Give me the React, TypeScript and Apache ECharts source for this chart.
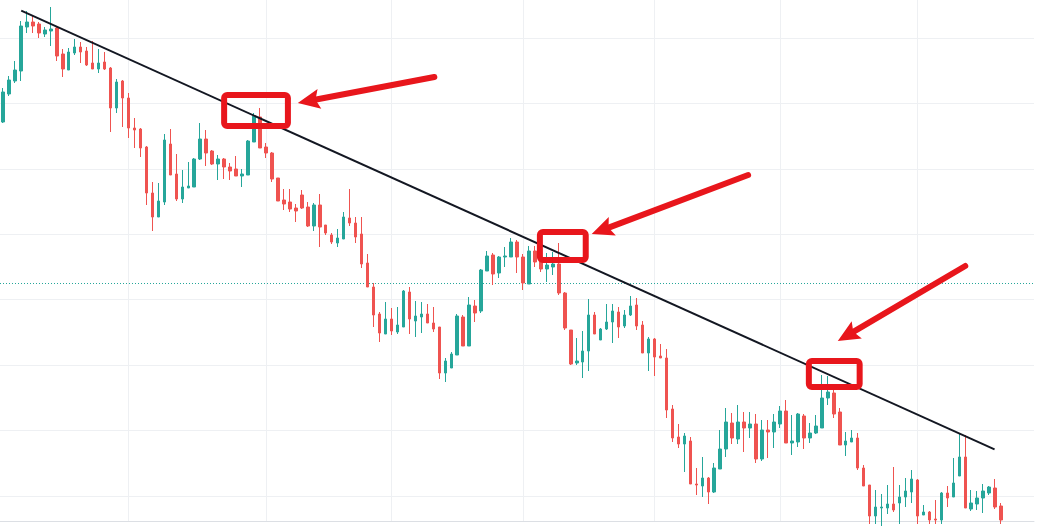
import React, { useEffect, useRef } from "react";
import * as echarts from "echarts";

// Price units: arbitrary (1 unit per screen pixel). Plot range 479..1000.
const SLOT_COUNT = 173;
const CATEGORIES = Array.from({ length: SLOT_COUNT }, (_, i) => `bar ${i + 1}`);

const OPEN = [
  878, 906, 919, 929, 973, 978, 976, 966, 969, 972, 946, 930, 947, 953, 949, 937, 931, 938, 932, 892,
  919, 902, 872, 871, 853, 807, 783, 798, 856, 826, 801, 812, 813, 841, 861, 849, 836, 841, 833, 831,
  824, 825, 858, 883, 853, 847, 822, 800, 798, 792, 805, 793, 774, 795, 775, 765, 757, 761, 782, 777,
  766, 737, 713, 686, 666, 681, 668, 673, 708, 679, 683, 686, 677, 673, 627, 632, 645, 683, 654, 694,
  689, 729, 745, 727, 743, 743, 758, 743, 716, 749, 743, 731, 733, 736, 707, 670, 637, 638, 649, 685,
  660, 671, 678, 688, 674, 685, 695, 675, 647, 661, 644, 642, 591, 563, 556, 559, 516, 514, 522, 508,
  531, 551, 577, 561, 578, 572, 576, 541, 570, 568, 576, 589, 557, 558, 584, 562, 567, 572, 602, 607,
  588, 555, 558, 562, 532, 515, 484, 492, 492, 496, 497, 503, 508, 520, 485, 488, 481, 480, 507, 503,
  524, 543, 491, 496, 502, 507, 512, 494,
];
const CLOSE = [
  908, 920, 930, 974, 978, 974, 967, 970, 971, 944, 931, 948, 953, 948, 935, 931, 937, 931, 892, 918,
  902, 872, 870, 852, 807, 783, 799, 860, 825, 801, 813, 814, 841, 861, 847, 836, 841, 833, 829, 824,
  826, 859, 884, 852, 847, 821, 799, 796, 791, 789, 792, 774, 795, 773, 767, 758, 762, 783, 777, 763,
  736, 713, 685, 667, 681, 669, 675, 709, 681, 684, 686, 677, 671, 627, 639, 646, 684, 654, 695, 687,
  730, 744, 726, 743, 744, 758, 743, 717, 749, 738, 731, 735, 736, 707, 672, 636, 639, 649, 685, 666,
  671, 678, 689, 673, 685, 694, 674, 647, 661, 643, 642, 590, 562, 556, 564, 516, 515, 522, 508, 532,
  551, 578, 562, 578, 572, 576, 541, 570, 568, 578, 589, 557, 559, 586, 562, 567, 574, 602, 608, 586,
  555, 559, 562, 532, 514, 484, 493, 493, 496, 490, 503, 509, 521, 484, 488, 480, 480, 507, 502, 517,
  543, 492, 497, 502, 509, 513, 493, 480,
];
const LOW = [
  877, 904, 917, 919, 967, 967, 962, 963, 954, 939, 923, 930, 945, 937, 934, 931, 927, 930, 868, 887,
  873, 862, 852, 843, 795, 769, 783, 795, 825, 799, 797, 812, 813, 840, 834, 835, 820, 821, 820, 824,
  813, 825, 858, 852, 842, 818, 799, 790, 788, 778, 791, 773, 769, 753, 765, 756, 753, 761, 774, 757,
  732, 713, 673, 658, 666, 665, 666, 673, 666, 663, 667, 677, 668, 621, 618, 632, 645, 654, 654, 678,
  687, 729, 715, 722, 733, 743, 727, 710, 716, 733, 728, 718, 725, 705, 670, 635, 635, 622, 629, 666,
  660, 670, 657, 662, 672, 684, 670, 647, 629, 624, 642, 582, 558, 552, 528, 516, 505, 503, 496, 507,
  531, 543, 556, 556, 548, 562, 537, 539, 542, 552, 572, 557, 545, 553, 551, 557, 566, 572, 595, 582,
  555, 544, 558, 530, 514, 476, 476, 474, 486, 488, 476, 493, 497, 476, 485, 476, 476, 476, 493, 503,
  524, 492, 489, 490, 487, 505, 491, 476,
];
const HIGH = [
  912, 924, 939, 979, 989, 985, 978, 973, 993, 973, 951, 952, 961, 958, 953, 959, 951, 948, 933, 921,
  920, 907, 882, 872, 854, 818, 817, 866, 871, 846, 830, 838, 842, 877, 870, 850, 845, 842, 837, 844,
  831, 860, 887, 892, 857, 848, 822, 811, 811, 796, 810, 798, 797, 806, 775, 767, 771, 788, 811, 783,
  783, 746, 717, 688, 698, 692, 693, 710, 713, 699, 698, 696, 693, 673, 642, 648, 686, 685, 703, 700,
  731, 749, 747, 744, 753, 762, 760, 746, 754, 754, 747, 747, 748, 757, 708, 670, 662, 669, 701, 688,
  672, 696, 696, 693, 690, 704, 702, 679, 663, 662, 656, 651, 595, 576, 567, 563, 532, 543, 523, 537,
  570, 592, 587, 595, 588, 588, 586, 580, 580, 586, 594, 600, 585, 587, 586, 577, 585, 625, 624, 610,
  592, 568, 570, 567, 535, 515, 510, 506, 515, 533, 515, 522, 530, 521, 495, 489, 500, 508, 514, 542,
  567, 565, 510, 509, 516, 514, 521, 497,
];

// Reference levels and annotations (in data space: [bar index, price])
const H_GRID = [504, 569.4, 634.9, 700.3, 765.7, 831.1, 896.6, 962];
const V_GRID = [21, 44, 65, 87, 109, 130, 153];
const DOTTED_LEVEL = 717;
const TREND = [
  [3.05, 989.3],
  [165.9, 550.7],
];
// [x from, x to, price low, price high]
const BOXES = [
  [37.0, 47.67, 874, 905],
  [89.83, 97.5, 740, 768],
  [134.83, 143.33, 613, 639],
];
// [tail x, tail price, tip x, tip price]
const ARROWS = [
  [72.17, 923, 49.33, 897],
  [124.67, 825, 98.5, 766],
  [161, 734, 139.67, 659],
];

const UP = "#26a69a";
const DOWN = "#ef5350";
const RED = "#e8161c";
const GRID_COLOR = "#eef0f3";

export default function App() {
  const ref = useRef<HTMLDivElement>(null);

  useEffect(() => {
    const chart = echarts.init(ref.current!, null, { renderer: "svg" });
    const candles = OPEN.map((o, i) => [o, CLOSE[i], LOW[i], HIGH[i]]);

    chart.setOption({
      animation: false,
      backgroundColor: "#ffffff",
      grid: { left: -4, top: 0, width: SLOT_COUNT * 6, height: 521, containLabel: false },
      xAxis: [
        {
          type: "category",
          data: CATEGORIES,
          boundaryGap: true,
          axisLine: { show: true, lineStyle: { color: "#dcdfe4", width: 1 } },
          axisTick: { show: false },
          axisLabel: { show: false },
          splitLine: { show: false },
        },
        {
          type: "value",
          min: -0.5,
          max: SLOT_COUNT - 0.5,
          show: false,
          splitLine: { show: false },
        },
      ],
      yAxis: {
        type: "value",
        min: 479,
        max: 1000,
        show: false,
        splitLine: { show: false },
      },
      series: [
        {
          type: "line",
          xAxisIndex: 1,
          data: [],
          silent: true,
          z: 0,
          markLine: {
            silent: true,
            symbol: "none",
            z: 0,
            animation: false,
            label: { show: false },
            lineStyle: { color: GRID_COLOR, width: 1, type: "solid" },
            data: [
              ...H_GRID.map((v) => ({ yAxis: v })),
              ...V_GRID.map((v) => ({ xAxis: v })),
              {
                yAxis: DOTTED_LEVEL,
                lineStyle: { color: UP, width: 1, type: [1, 2] },
              },
            ],
          },
        },
        {
          type: "candlestick",
          data: candles,
          barWidth: 3,
          z: 2,
          clip: true,
          itemStyle: {
            color: UP,
            color0: DOWN,
            borderColor: UP,
            borderColor0: DOWN,
            borderColorDoji: UP,
            borderWidth: 1,
          },
        },
        {
          type: "line",
          xAxisIndex: 1,
          data: TREND,
          symbol: "none",
          silent: true,
          z: 3,
          lineStyle: { color: "#131722", width: 2 },
        },
        {
          type: "custom",
          xAxisIndex: 1,
          data: BOXES,
          z: 4,
          silent: true,
          clip: false,
          renderItem: (params: any, api: any) => {
            const p1 = api.coord([api.value(0), api.value(3)]);
            const p2 = api.coord([api.value(1), api.value(2)]);
            return {
              type: "rect",
              shape: { x: p1[0], y: p1[1], width: p2[0] - p1[0], height: p2[1] - p1[1], r: 3 },
              style: { fill: "none", stroke: RED, lineWidth: 6 },
            };
          },
        },
        {
          type: "custom",
          xAxisIndex: 1,
          data: ARROWS,
          z: 4,
          silent: true,
          clip: false,
          renderItem: (params: any, api: any) => {
            const a = api.coord([api.value(0), api.value(1)]);
            const b = api.coord([api.value(2), api.value(3)]);
            const dx = b[0] - a[0];
            const dy = b[1] - a[1];
            const len = Math.hypot(dx, dy);
            const ux = dx / len;
            const uy = dy / len;
            const headLen = 22;
            const headW = 10;
            const bx = b[0] - ux * headLen;
            const by = b[1] - uy * headLen;
            const px = -uy;
            const py = ux;
            return {
              type: "group",
              children: [
                {
                  type: "line",
                  shape: { x1: a[0], y1: a[1], x2: bx + ux * 6, y2: by + uy * 6 },
                  style: { stroke: RED, lineWidth: 6, lineCap: "round" },
                },
                {
                  type: "polygon",
                  shape: {
                    points: [
                      [b[0], b[1]],
                      [bx + px * headW, by + py * headW],
                      [bx + ux * 4, by + uy * 4],
                      [bx - px * headW, by - py * headW],
                    ],
                  },
                  style: { fill: RED },
                },
              ],
            };
          },
        },
      ],
    });

    return () => chart.dispose();
  }, []);

  return (
    <div
      ref={ref}
      style={{ position: "fixed", left: 0, top: 0, width: 1037, height: 527, background: "#ffffff" }}
    />
  );
}
